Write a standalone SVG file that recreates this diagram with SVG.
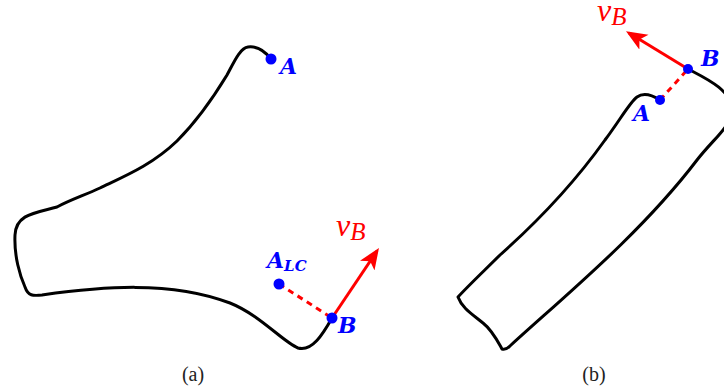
<svg xmlns="http://www.w3.org/2000/svg" width="724" height="389" viewBox="0 0 724 389">
<defs>
<style>
.curve{fill:none;stroke:#000;stroke-width:3;stroke-linejoin:round;stroke-linecap:round}
.vec{stroke:#f00;stroke-width:3;fill:none}
.dash{stroke:#f00;stroke-width:3;stroke-dasharray:6,5;fill:none}
.pt{fill:#00f}
.lbl{font-family:"DejaVu Serif","Liberation Serif",serif;font-weight:bold;font-style:italic;fill:#00f;font-size:22px}
.vlbl{font-family:"Liberation Serif",serif;font-style:italic;fill:#f00;font-size:32px}
.sub{font-size:15px}
.vsub{font-size:25px}
.cap{font-family:"Liberation Serif",serif;font-size:20px;fill:#222}
</style>
<marker id="ah" viewBox="0 0 12 10" refX="10" refY="5" markerWidth="7" markerHeight="6" markerUnits="strokeWidth" orient="auto">
<path d="M0,0 L12,5 L0,10 L3,5 Z" fill="#f00"/>
</marker>
</defs>
<g id="shape-a">
<path class="curve" d="M271,59 C264,50 256,46 248,47 C240,48 234,62 227,75 C210,103 196,122 177,141 C152,165 125,176 100,188 C85,195 70,200 57,207 C35,213 16,214 15,235 C14,256 20,276 25,287 C28,296 33,296 42,295 C100,287 170,280 230,303 C260,315 283,342 298,348 C312,352 323,334 332,318"/>
</g>
<g id="shape-b">
<path class="curve" d="M660,100 C652,95 644,92 637,97 C630,102 620,120 605,140 C580,175 545,215 500,255 C485,270 470,284 458,297 C462,308 472,314 483,323 C492,330 497,340 502,349 C505,350 507,349 510,346 C560,300 640,235 697,160 C715,137 730,128 732,110 C732,90 705,78 688,69"/>
</g>
<g id="connectors">
<line class="dash" x1="279" y1="284" x2="332" y2="318"/>
<line class="vec" x1="332" y1="318" x2="377" y2="251" marker-end="url(#ah)"/>
<line class="dash" x1="660" y1="100" x2="688" y2="69"/>
<line class="vec" x1="688" y1="69" x2="629" y2="33" marker-end="url(#ah)"/>
</g>
<g id="pointA-a"><circle class="pt" cx="271" cy="59" r="5.5"/><text class="lbl" x="280" y="74">A</text></g>
<g id="pointALC-a"><circle class="pt" cx="279" cy="284" r="5.5"/><text class="lbl" x="267" y="268">A<tspan class="sub" dy="3">LC</tspan></text></g>
<g id="pointB-a"><circle class="pt" cx="332" cy="318" r="5.5"/><text class="lbl" x="338" y="333">B</text></g>
<g id="vB-a"><text class="vlbl" x="336" y="236">v<tspan class="vsub" dy="4">B</tspan></text></g>
<g id="pointA-b"><circle class="pt" cx="660" cy="100" r="5"/><text class="lbl" x="633" y="121">A</text></g>
<g id="pointB-b"><circle class="pt" cx="688" cy="69" r="5"/><text class="lbl" x="701" y="66">B</text></g>
<g id="vB-b"><text class="vlbl" x="597" y="21">v<tspan class="vsub" dy="4">B</tspan></text></g>
<text class="cap" x="193" y="381" text-anchor="middle">(a)</text>
<text class="cap" x="594" y="381" text-anchor="middle">(b)</text>
</svg>
